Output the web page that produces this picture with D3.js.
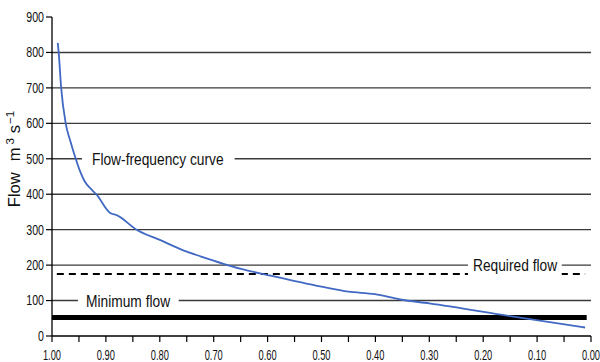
<!DOCTYPE html>
<html>
<head>
<meta charset="utf-8">
<script src="https://cdn.jsdelivr.net/npm/d3@7"></script>
<style>
  body { margin: 0; background: #fff; }
  svg { display: block; }
  text { font-family: "Liberation Sans", Arial, sans-serif; fill: #111; }
</style>
</head>
<body>
<svg id="chart" width="600" height="362"></svg>
<script>
// exceedance probability vs flow
const probability = [0.9893, 0.9876, 0.983, 0.9746, 0.966, 0.956, 0.948, 0.940, 0.926, 0.918, 0.892, 0.880, 0.843, 0.800, 0.750, 0.725, 0.651, 0.600, 0.500, 0.450, 0.401, 0.354, 0.300, 0.150, 0.011];
const flow = [827, 800, 700, 600, 550, 500, 465, 438, 412, 400, 347, 341, 300, 271, 238, 225, 190, 172, 139, 125, 118, 103, 92, 56, 24];

const requiredFlow = 175;
const minimumFlow = 52;

const xTicks = [1.0, 0.9, 0.8, 0.7, 0.6, 0.5, 0.4, 0.3, 0.2, 0.1, 0.0];
const xMinorTicks = [0.95, 0.85, 0.75, 0.65, 0.55, 0.45, 0.35, 0.25, 0.15, 0.05];
const yTicks = [0, 100, 200, 300, 400, 500, 600, 700, 800, 900];
const gridValues = [100, 200, 300, 400, 500, 600, 700, 800];

const svg = d3.select("#chart");
const mLeft = 52, mRight = 591, mTop = 17, mBottom = 336;

const x = d3.scaleLinear().domain([1, 0]).range([mLeft, mRight]);
const y = d3.scaleLinear().domain([0, 900]).range([mBottom, mTop]);

// squeeze text horizontally to mimic the condensed face of the original
function condense(sel, factor) {
  sel.each(function () {
    const w = this.getComputedTextLength();
    d3.select(this)
      .attr("textLength", w * factor)
      .attr("lengthAdjust", "spacingAndGlyphs");
  });
}

// gridlines
svg.append("g")
  .selectAll("line")
  .data(gridValues)
  .join("line")
  .attr("x1", mLeft).attr("x2", mRight)
  .attr("y1", d => y(d)).attr("y2", d => y(d))
  .attr("stroke", "#3a3a3a")
  .attr("stroke-width", 1.4);

// required flow (dashed)
svg.append("line")
  .attr("x1", x(0.991)).attr("x2", x(0.011))
  .attr("y1", y(requiredFlow)).attr("y2", y(requiredFlow))
  .attr("stroke", "#000")
  .attr("stroke-width", 2)
  .attr("stroke-dasharray", "7,5");

// minimum flow (thick)
svg.append("line")
  .attr("x1", x(1)).attr("x2", x(0.008))
  .attr("y1", y(minimumFlow)).attr("y2", y(minimumFlow))
  .attr("stroke", "#000")
  .attr("stroke-width", 5);

// flow-frequency curve
const pts = probability.map((p, i) => [p, flow[i]]);
svg.append("path")
  .datum(pts)
  .attr("fill", "none")
  .attr("stroke", "#4169c4")
  .attr("stroke-width", 1.8)
  .attr("d", d3.line().x(d => x(d[0])).y(d => y(d[1])).curve(d3.curveMonotoneX));

// labels with white boxes over the gridlines
function label(text, px, val, padL, padR) {
  const g = svg.append("g");
  const t = g.append("text")
    .attr("x", x(px))
    .attr("y", y(val))
    .attr("dy", "0.35em")
    .attr("font-size", 17)
    .text(text);
  condense(t, 0.81);
  const b = t.node().getBBox();
  g.insert("rect", "text")
    .attr("x", b.x - padL).attr("y", b.y)
    .attr("width", b.width + padL + padR).attr("height", b.height)
    .attr("fill", "#fff");
}
label("Flow-frequency curve", 0.9258, 500, 10, 11);
label("Minimum flow", 0.937, 100, 8, 8);
label("Required flow", 0.219, 200, 5, 4);

// axes
const xAxis = svg.append("g");
xAxis.append("line")
  .attr("x1", mLeft).attr("x2", mRight)
  .attr("y1", mBottom).attr("y2", mBottom)
  .attr("stroke", "#000").attr("stroke-width", 1.3);
xAxis.selectAll("line.tick")
  .data(xTicks.concat(xMinorTicks))
  .join("line")
  .attr("class", "tick")
  .attr("x1", d => x(d)).attr("x2", d => x(d))
  .attr("y1", mBottom).attr("y2", mBottom + 6)
  .attr("stroke", "#000").attr("stroke-width", 1.2);
xAxis.selectAll("text")
  .data(xTicks)
  .join("text")
  .attr("x", d => x(d))
  .attr("y", 359.5)
  .attr("text-anchor", "middle")
  .attr("font-size", 15)
  .text(d3.format(".2f"))
  .call(condense, 0.62);

const yAxis = svg.append("g");
yAxis.append("line")
  .attr("x1", mLeft).attr("x2", mLeft)
  .attr("y1", mTop).attr("y2", mBottom)
  .attr("stroke", "#000").attr("stroke-width", 1.3);
yAxis.selectAll("line.tick")
  .data(yTicks)
  .join("line")
  .attr("class", "tick")
  .attr("x1", mLeft - 6).attr("x2", mLeft)
  .attr("y1", d => y(d)).attr("y2", d => y(d))
  .attr("stroke", "#000").attr("stroke-width", 1.2);
yAxis.selectAll("text")
  .data(yTicks)
  .join("text")
  .attr("x", 44)
  .attr("y", d => y(d))
  .attr("dy", "0.35em")
  .attr("text-anchor", "end")
  .attr("font-size", 14)
  .text(d => d)
  .call(condense, 0.76);

// y title
const yt = svg.append("text")
  .attr("transform", "translate(20,159) rotate(-90)")
  .attr("text-anchor", "middle")
  .attr("font-size", 16.5);
yt.append("tspan").text("Flow");
yt.append("tspan").attr("dx", 11).text("m");
yt.append("tspan").attr("dx", 3).attr("baseline-shift", "super").attr("font-size", 11.5).text("3");
yt.append("tspan").attr("dx", 5).text("s");
yt.append("tspan").attr("dx", 1).attr("baseline-shift", "super").attr("font-size", 11.5).text("\u22121");
</script>
</body>
</html>
